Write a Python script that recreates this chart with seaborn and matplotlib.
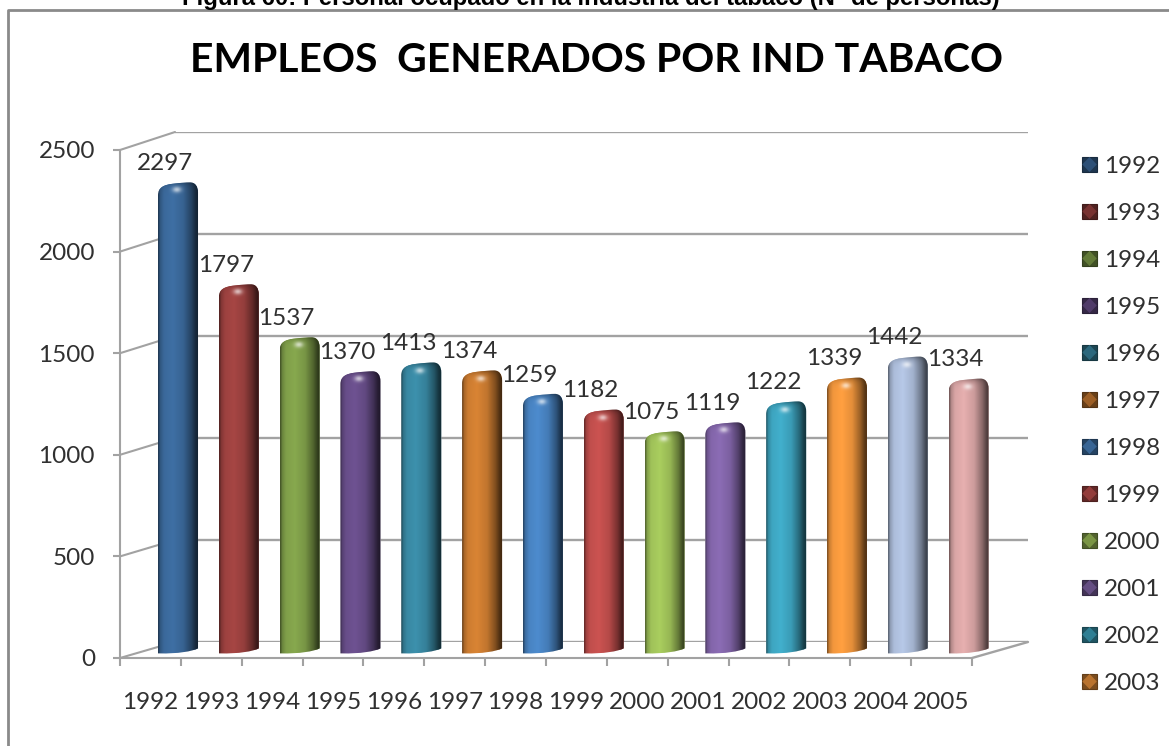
import numpy as np
import pandas as pd
import seaborn as sns
import matplotlib.pyplot as plt
from matplotlib.colors import to_rgb
from matplotlib.legend_handler import HandlerBase
from matplotlib.lines import Line2D
from matplotlib.patches import ConnectionPatch, Patch, PathPatch, Polygon, Rectangle
from matplotlib.path import Path

sns.set_style("white")
plt.rcParams['font.family'] = ['Lato', 'DejaVu Sans']

years = ["1992", "1993", "1994", "1995", "1996", "1997", "1998",
         "1999", "2000", "2001", "2002", "2003", "2004", "2005"]
empleos = [2297, 1797, 1537, 1370, 1413, 1374, 1259,
           1182, 1075, 1119, 1222, 1339, 1442, 1334]
colores = ["#3c6b9e", "#a04341", "#82a24b", "#6a4f8c", "#3a8ba6", "#d17f32", "#4a86c6",
           "#c4504e", "#a3c65b", "#8668ae", "#3fa9c5", "#f79a3e", "#b0c1df", "#dea9a9"]
# the legend in the source image is cut off after 2003
legend_years = years[:12]
y_ticks = [0, 500, 1000, 1500, 2000, 2500]

W, H = 1169, 746
GRAY = "#a2a2a2"
TEXT = "#303030"
FS = 17.5

df = pd.DataFrame({"year": years, "empleos": empleos})


def box(x0, y_top, x1, y_bottom):
    # pixel box of the picture -> figure fractions
    return [x0 / W, 1 - y_bottom / H, (x1 - x0) / W, (y_bottom - y_top) / H]


class BevelHandler(HandlerBase):
    # small bevelled square of the legend
    def create_artists(self, legend, orig, xd, yd, width, height, fontsize, trans):
        r, g, b = to_rgb(orig.get_facecolor())
        x0, y0 = -xd, -yd
        dark = Rectangle((x0, y0), width, height, fc=(r * 0.5, g * 0.5, b * 0.5),
                         ec=(r * 0.4, g * 0.4, b * 0.4), lw=0.8, transform=trans)
        inner = Polygon([(x0 + width * 0.5, y0 + height * 0.98), (x0 + width * 0.98, y0 + height * 0.5),
                         (x0 + width * 0.5, y0 + height * 0.02), (x0 + width * 0.02, y0 + height * 0.5)],
                        fc=(r * 0.75, g * 0.75, b * 0.75), ec="none", transform=trans)
        return [dark, inner]


fig = plt.figure(figsize=(W / 100, H / 100), dpi=100, facecolor="white")

# outer frame, only left and top are inside the picture
fig.add_artist(Line2D([7.5 / W, 7.5 / W, 1], [0, 1 - 9.5 / H, 1 - 9.5 / H], color="#8a8a8a", lw=2))

# back wall
ax_back = fig.add_axes(box(175, 132, 1028, 642), zorder=1)
ax_back.patch.set_alpha(0)
ax_back.set_ylim(0, 2500)
ax_back.set_xlim(-0.5, 13.5)
ax_back.set_yticks(y_ticks)
ax_back.set_xticks([])
ax_back.tick_params(left=False, labelleft=False)
ax_back.grid(axis="y", color=GRAY, lw=1.7)
sns.despine(ax=ax_back, left=True, bottom=True)

# front plane with ticks and labels
ax_front = fig.add_axes(box(120, 150, 972, 658), zorder=2)
ax_front.patch.set_alpha(0)
ax_front.set_xlim(-0.5, 13.5)
ax_front.set_ylim(0, 2500)
ax_front.set_yticks(y_ticks)
ax_front.set_xticks(range(len(years)))
ax_front.set_xticklabels(years)
ax_front.set_xticks(np.arange(-0.5, 14), minor=True)
ax_front.tick_params(axis="y", color=GRAY, width=1.5, length=5, labelsize=FS, labelcolor=TEXT, pad=13, left=True)
ax_front.tick_params(axis="x", which="major", length=0, labelsize=FS, labelcolor=TEXT, pad=24.5)
ax_front.tick_params(axis="x", which="minor", color=GRAY, width=1.5, length=6, bottom=True)
sns.despine(ax=ax_front)
for s in ["left", "bottom"]:
    ax_front.spines[s].set_color(GRAY)
    ax_front.spines[s].set_linewidth(1.5)

# slanted lines joining front and back
for v in y_ticks:
    fig.add_artist(ConnectionPatch((-0.5, v), (-0.5, v), "data", "data", axesA=ax_front, axesB=ax_back,
                                   color=GRAY, lw=1.5))
fig.add_artist(ConnectionPatch((13.5, 0), (13.5, 0), "data", "data", axesA=ax_front, axesB=ax_back,
                               color=GRAY, lw=1.7))

# bars, axis box runs a little below 0 so the round foot is not cut
PX_Y = 509 / 2500
ax_bars = fig.add_axes(box(147.6, 141, 999, 670.4), zorder=3)
ax_bars.patch.set_alpha(0)
sns.barplot(data=df, x="year", y="empleos", hue="year", palette=colores, saturation=1, legend=False,
            width=40 / 60.8, ax=ax_bars)
ax_bars.set_xlim(-0.5, 13.5)
ax_bars.set_ylim(-20 / PX_Y, 2500)
ax_bars.axis("off")

# shading across the cylinder
u_stops = [0, 0.05, 0.14, 0.36, 0.62, 0.82, 0.93, 1]
b_stops = [0.55, 0.82, 0.98, 1.04, 0.92, 0.62, 0.38, 0.30]

for patch, value in zip(ax_bars.patches, empleos):
    x0 = patch.get_x()
    sx = patch.get_width() / 40
    sy = 1 / PX_Y
    top = value * PX_Y

    pts = [(0, -3), (0, top - 13),
           (0, top - 5), (6, top - 2.5), (14, top - 1.5),
           (22, top - 0.5), (28, top), (32, top),
           (37, top), (40, top - 4), (40, top - 10),
           (40, 2),
           (34, -1), (20, -3.5), (1, -3),
           (0, -3)]
    codes = [Path.MOVETO, Path.LINETO,
             Path.CURVE4, Path.CURVE4, Path.CURVE4,
             Path.CURVE4, Path.CURVE4, Path.CURVE4,
             Path.CURVE4, Path.CURVE4, Path.CURVE4,
             Path.LINETO,
             Path.CURVE4, Path.CURVE4, Path.CURVE4,
             Path.CLOSEPOLY]
    outline = Path([(x0 + p[0] * sx, p[1] * sy) for p in pts], codes)
    clip = PathPatch(outline, transform=ax_bars.transData, fc="none", ec="none")
    ax_bars.add_patch(clip)
    patch.set_clip_path(clip)

    # picture of the bar, row 0 is the top
    nrows = int(top + 6)
    u = np.linspace(0, 1, 40)
    rows = np.arange(nrows)[:, None]
    shade = np.interp(u, u_stops, b_stops)[None, :] * np.ones((nrows, 1))
    shade = shade * (1 - 0.5 * np.exp(-rows / 3))
    spot = np.exp(-((u[None, :] - 0.46) / 0.11) ** 2 - ((rows - 9) / 3) ** 2)
    base = np.array(to_rgb(patch.get_facecolor()))
    img = np.clip(base[None, None, :] * shade[:, :, None], 0, 1)
    img = img + (1 - img) * 0.65 * spot[:, :, None]
    im = ax_bars.imshow(img, extent=[x0, x0 + patch.get_width(), -5 * sy, (top + 1) * sy],
                        aspect="auto", interpolation="bilinear", zorder=3)
    im.set_clip_path(clip)

    ax_bars.annotate(str(value), xy=(x0 + patch.get_width() / 2, value), xytext=(-9.5, 13.5),
                     textcoords="offset points", ha="center", va="center", fontsize=FS, color=TEXT)

ax_bars.set_xlim(-0.5, 13.5)
ax_bars.set_ylim(-20 / PX_Y, 2500)

# legend
handles = [Patch(facecolor=c) for c in colores[:12]]
fig.legend(handles, legend_years, loc="upper left", bbox_to_anchor=(1082 / W, 1 - 156 / H), frameon=False,
           fontsize=FS, labelcolor=TEXT, handlelength=0.62, handleheight=0.62, handletextpad=0.3,
           labelspacing=1.07, borderpad=0, borderaxespad=0, handler_map={Patch: BevelHandler()})

fig.text(591 / W, 1 - 5 / H, "Figura 60: Personal ocupado en la industria del tabaco (N° de personas)",
         ha="center", va="baseline", fontsize=17.2, fontweight="bold", family="Liberation Sans", color="black")
fig.text(596 / W, 1 - 60 / H, "EMPLEOS  GENERADOS POR IND TABACO", ha="center", va="center",
         fontsize=29.4, fontweight="bold", color="black")

fig.savefig("out.png", dpi=100)
